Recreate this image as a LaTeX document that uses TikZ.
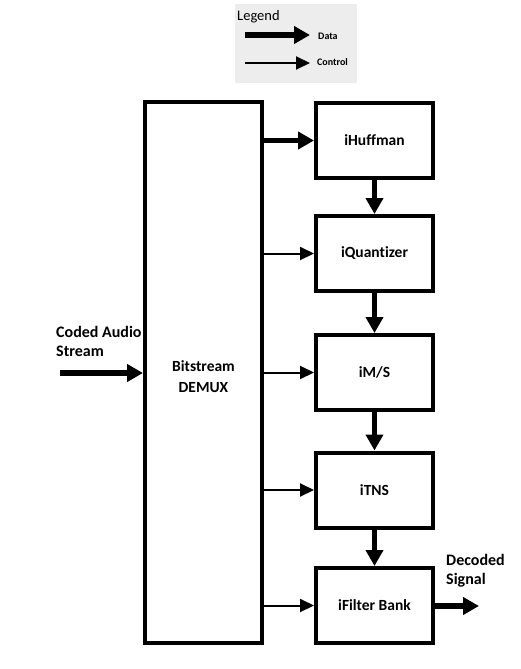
\documentclass[tikz,border=0pt]{standalone}
\usepackage{fontspec}
\setmainfont{Carlito}[Ligatures=NoCommon]
\usetikzlibrary{arrows.meta}
\begin{document}
\begin{tikzpicture}[x=1pt,y=-1pt,
  blk/.style={draw,line width=4pt,minimum width=117pt,inner sep=0pt,font=\bfseries\fontsize{15.5}{20}\selectfont},
  dataar/.style={line width=5.5pt,-{Triangle[length=16pt,width=17pt]}},
  ctrlar/.style={line width=2pt,-{Triangle[length=14pt,width=13pt]}},
  lbl/.style={font=\bfseries\fontsize{16}{19}\selectfont,align=left,inner sep=0pt}]
\useasboundingbox (0,0) rectangle (520,669);
% legend
\node[fill=black!7,minimum width=122pt,minimum height=78pt,inner sep=0pt] (leg) at (295.5,43.5) {};
\node[anchor=west,inner sep=0pt,font=\fontsize{14.5}{16}\selectfont] (legt) at (237,17) {Legend};
\coordinate (d0) at (245,35);
\coordinate (d1) at (310,35);
\coordinate (c0) at (245,63);
\coordinate (c1) at (310,63);
\draw[dataar] (d0) -- (d1);
\draw[ctrlar] (c0) -- (c1);
\node[anchor=west,inner sep=0pt,font=\bfseries\fontsize{10}{12}\selectfont] (ld) at (318,36) {Data};
\node[anchor=west,inner sep=0pt,font=\bfseries\fontsize{10}{12}\selectfont] (lc) at (317,62) {Control};
% blocks
\node[blk,minimum height=541pt] (demux) at (203.5,372.5) {};
\node[inner sep=0pt,align=center,font=\bfseries\fontsize{15.5}{21}\selectfont] (demuxt) at ([yshift=-4pt]demux.center) {Bitstream\\DEMUX};
\node[blk,minimum height=75pt] (huf) at (374.5,140.5) {iHuffman};
\node[blk,minimum height=75pt] (qua) at (374.5,253.5) {iQuantizer};
\node[blk,minimum height=75pt] (ms) at (374.5,372.5) {iM/S};
\node[blk,minimum height=75pt] (tns) at (374.5,490) {iTNS};
\node[blk,minimum height=75pt] (fb) at (374.5,605.5) {iFilter Bank};
% data arrows
\draw[dataar] (demux.east |- huf.west) -- (huf.west);
\draw[dataar] (huf.south) -- (qua.north);
\draw[dataar] (qua.south) -- (ms.north);
\draw[dataar] (ms.south) -- (tns.north);
\draw[dataar] (tns.south) -- (fb.north);
% control arrows
\draw[ctrlar] (demux.east |- qua.west) -- (qua.west);
\draw[ctrlar] (demux.east |- ms.west) -- (ms.west);
\draw[ctrlar] (demux.east |- tns.west) -- (tns.west);
\draw[ctrlar] (demux.east |- fb.west) -- (fb.west);
% input / output
\coordinate (in) at (60,373);
\draw[dataar] (in) -- (demux.west |- in);
\coordinate (out) at (479,606);
\draw[dataar] (fb.east |- out) -- (out);
\node[lbl,anchor=north west] (inl) at (56,326) {Coded Audio\\Stream};
\node[lbl,anchor=north west] (outl) at (446,554) {Decoded\\Signal};
\end{tikzpicture}
\end{document}
